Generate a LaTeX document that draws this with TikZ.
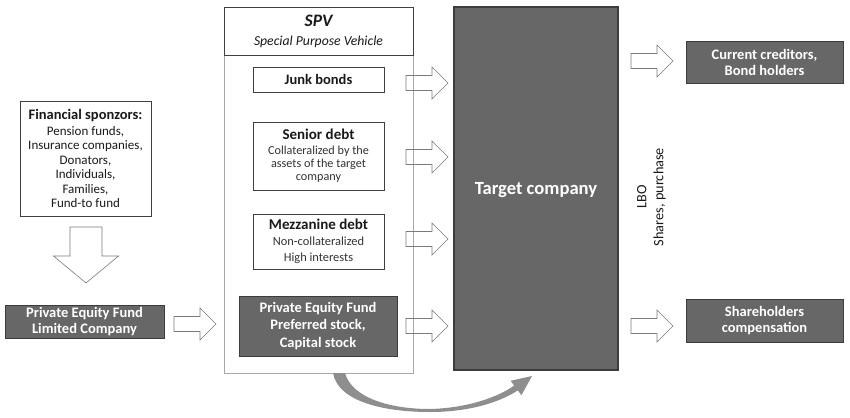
\documentclass[tikz,border=0pt]{standalone}
\usepackage{fontspec}
\setmainfont{Carlito}
\definecolor{boxdark}{HTML}{676767}
\definecolor{darkedge}{HTML}{3C3C3C}
\definecolor{edge}{HTML}{404040}
\definecolor{spvedge}{HTML}{A8A8A8}
\definecolor{arrowedge}{HTML}{7A7A7A}
\definecolor{txt}{HTML}{1A1A1A}
\definecolor{subtxt}{HTML}{333333}
\definecolor{curve}{HTML}{8E8E8E}
\tikzset{
  whitebox/.style={draw=edge, line width=0.9pt, fill=white, inner sep=0pt, align=center, text=txt},
  darkbox/.style={draw=darkedge, line width=0.9pt, fill=boxdark, inner sep=0pt, align=center, text=white,
     font=\fontsize{14.5}{16}\selectfont\bfseries},
  blockarrow/.style={draw=arrowedge, line width=0.6pt, line join=miter},
  rarrow/.pic={\draw[blockarrow] (-21,-7.5) -- (5,-7.5) -- (5,-16) -- (21,0) -- (5,16) -- (5,7.5) -- (-21,7.5) -- cycle;},
  darrow/.pic={\draw[blockarrow] (-16,-28) -- (16,-28) -- (16,1) -- (32.5,1) -- (0,28) -- (-32.5,1) -- (-16,1) -- cycle;}
}
\begin{document}
\begin{tikzpicture}[x=1pt,y=-1pt]
\useasboundingbox[fill=white] (0,0) rectangle (850,417);

% Financial sponsors
\node[whitebox, minimum width=131, minimum height=115, font=\fontsize{13}{14.5}\selectfont] (spons) at (85.5,158.5)
  {{\fontsize{14.5}{16}\selectfont\bfseries Financial sponzors:}\\[1pt]
   Pension funds,\\ Insurance companies,\\ Donators,\\ Individuals,\\ Families,\\ Fund-to fund};

\pic at (86,255) {darrow};

% Private Equity Fund Limited Company
\node[darkbox, minimum width=159, minimum height=33] (pelc) at (84.5,321.5)
  {Private Equity Fund\\Limited Company};

\pic at (195,324) {rarrow};

% SPV
\draw[spvedge, line width=0.9pt] (224,7) rectangle (413,373);
\node[whitebox, minimum width=189, minimum height=48, font=\fontsize{13.7}{19}\selectfont\itshape] (spv) at (318.5,31)
  {{\fontsize{17.5}{19}\selectfont\bfseries\itshape SPV}\\
   Special Purpose Vehicle};

\node[whitebox, minimum width=131, minimum height=25, font=\fontsize{14.5}{15}\selectfont\bfseries] (junk) at (318.5,79.5) {Junk bonds};

\node[whitebox, minimum width=131, minimum height=68, font=\fontsize{12.2}{13.3}\selectfont, text=subtxt] (senior) at (318.5,156)
  {{\fontsize{15}{15}\selectfont\bfseries\color{txt} Senior debt}\\[1.5pt]
   Collateralized by the\\ assets of the target\\ company};

\node[whitebox, minimum width=131, minimum height=55, font=\fontsize{12.4}{16}\selectfont, text=subtxt] (mezz) at (318.5,241.5)
  {{\fontsize{15}{15}\selectfont\bfseries\color{txt} Mezzanine debt}\\
   Non-collateralized\\ High interests};

\node[darkbox, minimum width=158, minimum height=60, font=\fontsize{14.5}{17.5}\selectfont\bfseries] (pepref) at (318,326)
  {Private Equity Fund\\Preferred stock,\\Capital stock};

\pic at (427,83) {rarrow};
\pic at (427,157) {rarrow};
\pic at (427,239) {rarrow};
\pic at (427,326) {rarrow};

% Target company
\node[darkbox, draw=darkedge, line width=1.2pt, minimum width=164, minimum height=363] (target) at (536,188.5) {};
\node[text=white, font=\fontsize{18.6}{20}\selectfont\bfseries] (targettxt) at (536,190) {Target company};

\node[rotate=90, align=center, text=txt, font=\fontsize{14.3}{17}\selectfont] (lbo) at (651.5,197)
  {LBO\\Shares, purchase};

\pic at (652,61) {rarrow};
\pic at (652,326) {rarrow};

\node[darkbox, minimum width=157, minimum height=42] (cred) at (764.5,62)
  {Current creditors,\\Bond holders};
\node[darkbox, minimum width=157, minimum height=43] (share) at (764.5,320.5)
  {Shareholders\\compensation};

% curved arrow under SPV to target
\fill[curve] (333,373) .. controls (338,402) and (385,412) .. (430,412)
  .. controls (470,412) and (500,402) .. (517.8,390.4)
  -- (521.4,395.2) -- (532,376) -- (510.6,380.8) -- (514.2,385.6)
  .. controls (498,397) and (468,408) .. (430,409)
  .. controls (390,409) and (352,398) .. (345,373) -- cycle;
\end{tikzpicture}
\end{document}
